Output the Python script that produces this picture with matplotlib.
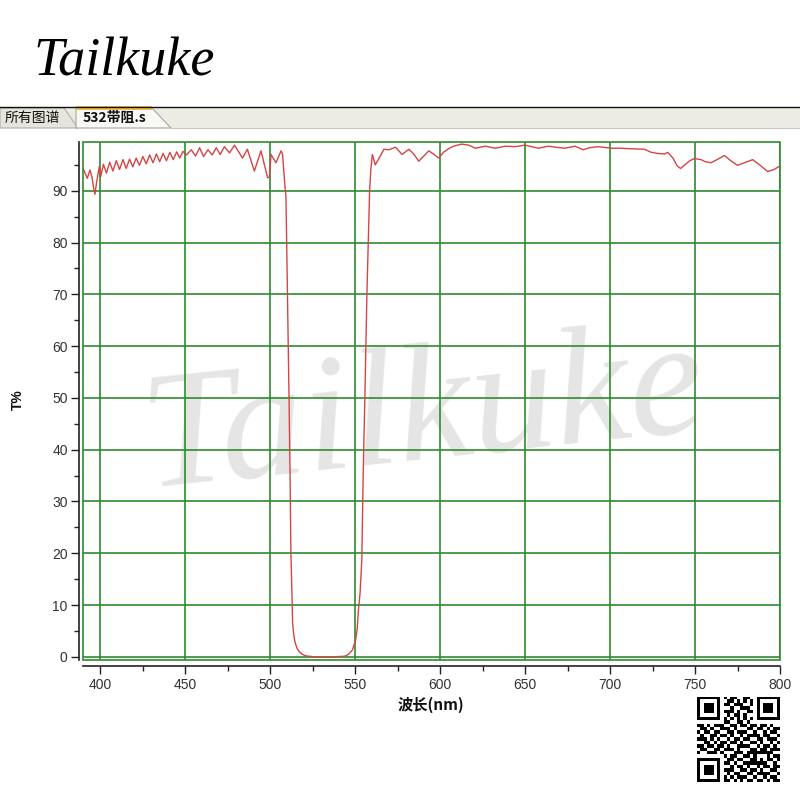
import matplotlib
matplotlib.use('Agg')
import matplotlib.pyplot as plt
from matplotlib.patches import Rectangle, Polygon
from matplotlib.ticker import MultipleLocator
import numpy as np

plt.rcParams['font.family'] = ['Liberation Sans', 'Noto Sans CJK SC', 'DejaVu Sans']

# ---------------- data ----------------
wavelength = [
    390.0, 391.0, 392.5, 394.1, 395.3, 396.2, 397.0, 398.0, 399.6, 400.4,
    402.0, 403.8, 405.7, 407.6, 409.6, 411.5, 413.5, 415.4, 417.4, 419.3,
    421.3, 423.2, 425.2, 427.2, 429.2, 431.2, 433.2, 435.1, 437.1, 439.1,
    441.1, 443.1, 445.1, 446.9, 448.8, 450.8,
    453.7, 456.2, 458.6, 460.9, 463.5, 466.0, 468.4, 470.7, 473.2, 476.2,
    479.1, 481.6,
    483.8, 486.7, 490.8, 494.7, 498.6, 499.6, 500.6, 503.5, 506.5, 507.4,
    508.4, 509.4,
    509.8, 510.5, 511.2, 511.8, 512.3, 512.9, 513.3, 514.0, 514.8, 516.0,
    517.2, 519.0, 521.0, 525.0, 530.0, 535.0, 540.0, 543.0, 544.6, 546.5,
    548.5, 550.4, 551.3, 552.0, 553.0, 554.0, 554.8, 555.8, 557.0, 558.6,
    559.3, 560.2, 561.9, 564.2, 567.0, 570.0, 573.8, 577.7, 581.7, 584.5,
    587.5, 590.5, 593.4, 596.5, 599.3, 602.0, 605.0, 608.0, 612.7, 616.8,
    620.8, 626.7, 632.5, 638.4, 644.0, 650.0, 654.0, 657.9, 663.7, 668.0,
    673.5, 679.4, 684.2, 688.0, 693.0, 700.8, 706.0, 712.5, 720.4, 724.3,
    728.0, 732.1, 734.0, 737.0, 739.5, 741.5, 744.0, 747.0, 749.7, 753.6,
    756.0, 759.4, 763.0, 767.3, 771.0, 775.0, 779.0, 783.9, 788.0, 792.7,
    796.6, 800.0,
]
transmission = [
    94.3, 93.6, 92.4, 94.0, 92.6, 90.6, 89.3, 91.6, 94.7, 92.7,
    95.1, 93.4, 95.5, 93.8, 95.8, 94.1, 96.0, 94.3, 96.1, 94.6,
    96.3, 94.9, 96.6, 95.2, 96.9, 95.4, 97.1, 95.6, 97.2, 95.8,
    97.4, 96.0, 97.5, 96.3, 97.6, 96.9,
    97.9, 96.7, 98.3, 96.6, 97.9, 96.9, 98.3, 97.0, 98.5, 97.3,
    98.8, 97.5,
    96.3, 98.0, 93.8, 97.7, 92.5, 92.6, 97.0, 95.4, 97.7, 97.0,
    92.5, 88.6,
    80.0, 65.0, 50.0, 35.0, 20.0, 12.4, 6.5, 4.2, 2.7, 1.6,
    1.0, 0.5, 0.2, 0.05, 0.0, 0.0, 0.05, 0.1, 0.2, 0.6,
    1.35, 3.3, 5.5, 9.0, 12.4, 18.7, 35.0, 50.0, 70.0, 90.0,
    94.0, 97.0, 95.0, 96.3, 98.0, 97.9, 98.4, 97.0, 98.0, 97.1,
    95.7, 96.7, 97.7, 97.0, 96.3, 97.4, 98.1, 98.6, 99.0, 98.8,
    98.2, 98.6, 98.2, 98.6, 98.5, 98.8, 98.5, 98.2, 98.6, 98.4,
    98.2, 98.6, 97.9, 98.3, 98.5, 98.2, 98.2, 98.1, 98.0, 97.4,
    97.2, 97.1, 97.4, 96.3, 94.8, 94.3, 95.0, 95.8, 96.2, 96.0,
    95.6, 95.4, 96.0, 96.8, 95.8, 94.9, 95.4, 96.0, 95.0, 93.7,
    94.1, 94.8,
]
x_ticks = [400, 450, 500, 550, 600, 650, 700, 750, 800]
y_ticks = [0, 10, 20, 30, 40, 50, 60, 70, 80, 90]
x_label = '波长(nm)'
y_label = 'T%'
title_text = 'Tailkuke'
tab_labels = ['所有图谱', '532带阻.s']

qr_rows = [
    "1111111010110011001111111",
    "1000001001101010101000001",
    "1011101011011100101011101",
    "1011101000100111001011101",
    "1011101011101001101011101",
    "1000001001011010001000001",
    "1111111010101010101111111",
    "0000000011001101000000000",
    "1101011100110110110110100",
    "0110100111010001101101011",
    "1011011001101110010010110",
    "0100110110100101111011001",
    "1110101001011011001101110",
    "0011010110110100110100101",
    "1101101101001111001011010",
    "0110011011101000110110111",
    "1001110100011101111111100",
    "0000000010110011010001011",
    "1111111001101100110101101",
    "1000001011010011111110010",
    "1011101000101101001011011",
    "1011101011100110110100110",
    "1011101001011001101111001",
    "1000001010101110010010110",
    "1111111011010101101101011",
]

# ---------------- figure ----------------
W = H = 800
fig = plt.figure(figsize=(8, 8), dpi=100)
fig.patch.set_facecolor('white')

def fx(px):
    return px / W

def fy(py):
    return 1 - py / H

green = '#2f8a2f'
red = '#d64444'

ax = fig.add_axes([fx(83), fy(660), fx(780) - fx(83), fy(141.5) - fy(660)])
ax.plot(wavelength, transmission, color=red, lw=1.0, zorder=3)
ax.set_xlim(390, 800)
ax.set_ylim(-0.6, 99.5)
ax.set_xticks(x_ticks)
ax.set_yticks(y_ticks)
ax.xaxis.set_minor_locator(MultipleLocator(25))
ax.yaxis.set_minor_locator(MultipleLocator(5))
ax.grid(True, which='major', color=green, lw=1.2)

for s in ['top', 'right']:
    ax.spines[s].set_visible(False)
ax.spines['left'].set_position(('outward', 3))
ax.spines['bottom'].set_position(('outward', 4.3))
for s in ['left', 'bottom']:
    ax.spines[s].set_color('#222222')
    ax.spines[s].set_linewidth(1.2)
ax.add_patch(Rectangle((0, 0), 1, 1, transform=ax.transAxes, fill=False,
                       ec=green, lw=1.2, clip_on=False, zorder=4))

ax.tick_params(which='major', direction='out', length=6, width=1, color='#222222',
               labelsize=10, labelcolor='#333333')
ax.tick_params(which='minor', direction='out', length=3.5, width=1, color='#222222')
ax.tick_params(axis='y', pad=2)
ax.tick_params(axis='x', pad=3)

# watermark
ax.text(fx(148), fy(487), title_text, transform=fig.transFigure, family='Liberation Serif',
        style='italic', fontsize=121, color='#e5e5e5', rotation=6, rotation_mode='anchor',
        ha='left', va='baseline', zorder=0.5, clip_on=False)

# axis labels
fig.text(fx(18), fy(400), y_label, rotation=90, ha='center', va='center',
         fontsize=10, fontweight='bold', color='#111111')
fig.text(fx(431), fy(705), x_label, ha='center', va='center', fontsize=11,
         fontweight='bold', family=['Noto Sans CJK SC', 'DejaVu Sans'], color='#111111')

# title
fig.text(fx(124), fy(75), title_text, family='Liberation Serif', style='italic',
         fontsize=39, ha='center', va='baseline', color='black')

# tab bar
fig.add_artist(Rectangle((0, fy(128)), 1, fy(107) - fy(128), transform=fig.transFigure,
                         facecolor='#ecebe4', edgecolor='none'))
fig.add_artist(Polygon([(fx(0), fy(128)), (fx(0), fy(108)), (fx(64), fy(108)), (fx(78), fy(128))],
                       closed=True, transform=fig.transFigure, facecolor='#e6e5dd',
                       edgecolor='#b0b0a8', lw=0.8))
fig.add_artist(Polygon([(fx(76), fy(128)), (fx(76), fy(108)), (fx(152), fy(108)), (fx(171), fy(128))],
                       closed=True, transform=fig.transFigure, facecolor='#f9f9f5',
                       edgecolor='#a8a8a0', lw=0.8))
fig.add_artist(Rectangle((fx(76), fy(109.5)), fx(152) - fx(76), fy(106.5) - fy(109.5),
                         transform=fig.transFigure, facecolor='#f2c04a', edgecolor='none'))
fig.add_artist(plt.Line2D([0, 1], [fy(106.5), fy(106.5)], transform=fig.transFigure,
                          color='#111111', lw=1.0))
fig.add_artist(plt.Line2D([fx(171), 1], [fy(128), fy(128)], transform=fig.transFigure,
                          color='#c8c8c0', lw=0.8))
fig.text(fx(5), fy(118), tab_labels[0], ha='left', va='center', fontsize=10,
         family=['Noto Sans CJK SC', 'DejaVu Sans'], color='#111111')
fig.text(fx(83), fy(118), tab_labels[1], ha='left', va='center', fontsize=10,
         fontweight='bold', family=['Noto Sans CJK SC', 'DejaVu Sans'], color='#111111')

# QR code
qr = np.array([[int(c) for c in row] for row in qr_rows])
axq = fig.add_axes([fx(697), fy(782), fx(780) - fx(697), fy(697) - fy(782)])
axq.imshow(qr, cmap='gray_r', interpolation='nearest', aspect='auto')
axq.axis('off')

fig.savefig('out.png', dpi=100, facecolor='white')
